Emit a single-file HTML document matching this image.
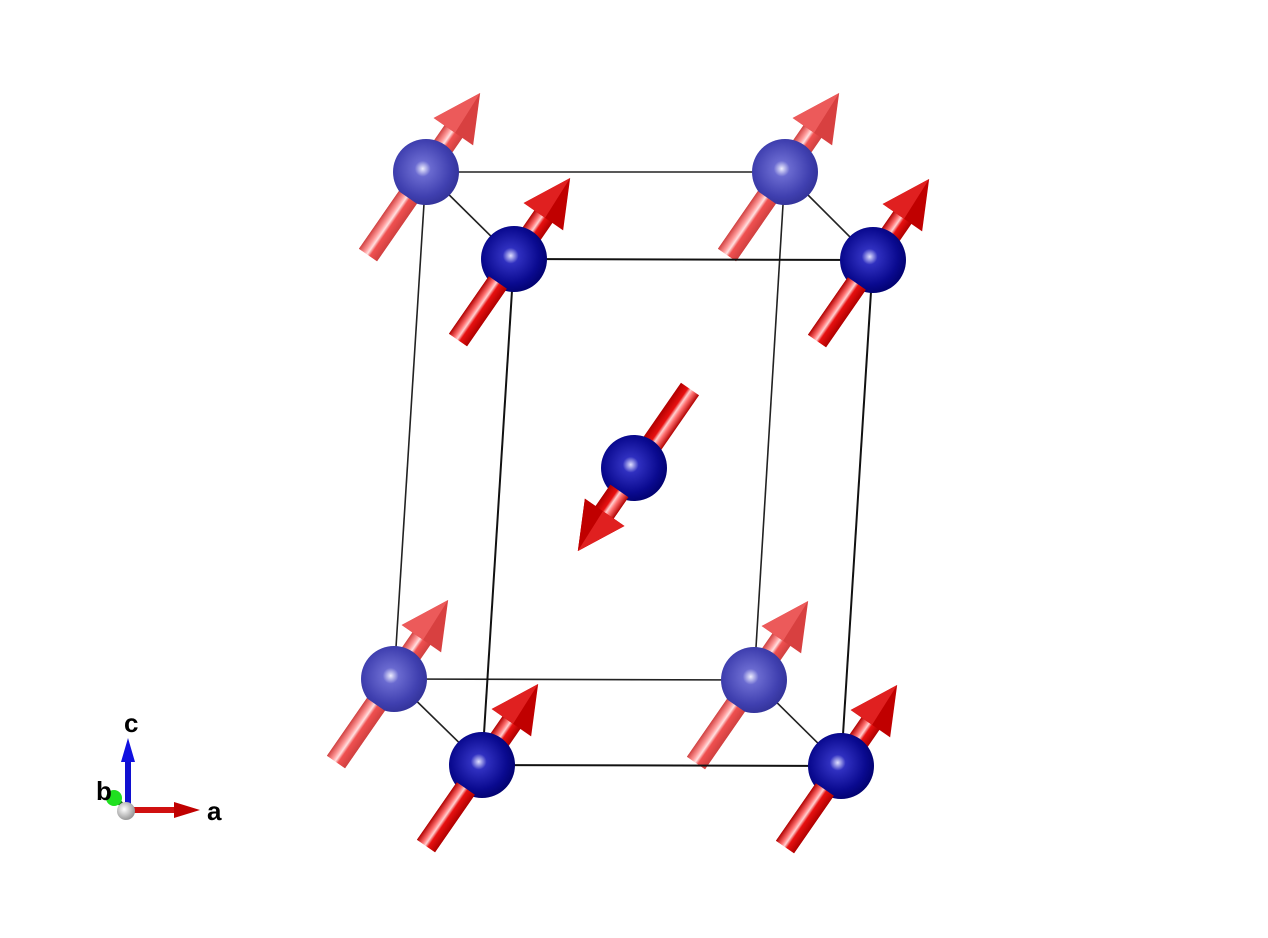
<!DOCTYPE html>
<html><head><meta charset="utf-8"><style>
html,body{margin:0;padding:0;background:#fff;}
svg{display:block}
</style></head><body>
<svg width="1268" height="938" viewBox="0 0 1268 938" xmlns="http://www.w3.org/2000/svg">
<defs>
<linearGradient id="sh" gradientUnits="userSpaceOnUse" x1="0" y1="-11" x2="0" y2="11">
<stop offset="0" stop-color="#b00000"/><stop offset="0.3" stop-color="#ff7070"/><stop offset="0.45" stop-color="#ffd0d0"/><stop offset="0.6" stop-color="#e81010"/><stop offset="1" stop-color="#b00000"/>
</linearGradient>
<linearGradient id="shb" gradientUnits="userSpaceOnUse" x1="0" y1="-11" x2="0" y2="11">
<stop offset="0" stop-color="#d04040"/><stop offset="0.3" stop-color="#ff9a9a"/><stop offset="0.45" stop-color="#ffe0e0"/><stop offset="0.6" stop-color="#f05050"/><stop offset="1" stop-color="#d04040"/>
</linearGradient>
<radialGradient id="fa" cx="0.45" cy="0.45" r="0.6">
<stop offset="0" stop-color="#e0e0ff"/><stop offset="0.2" stop-color="#3030c0"/><stop offset="0.7" stop-color="#0a0a90"/><stop offset="1" stop-color="#00006a"/>
</radialGradient>
<radialGradient id="ba" cx="0.45" cy="0.45" r="0.6">
<stop offset="0" stop-color="#eeeeff"/><stop offset="0.2" stop-color="#6a6ad0"/><stop offset="0.7" stop-color="#4040b0"/><stop offset="1" stop-color="#303095"/>
</radialGradient>
<radialGradient id="wg" cx="0.4" cy="0.4" r="0.6"><stop offset="0" stop-color="#fff"/><stop offset="1" stop-color="#999"/></radialGradient>
<g id="headF"><polygon points="150,-24 197,0 150,24" fill="#c00000"/><polygon points="150,-24 197,0 150,2" fill="#e02020"/></g>
<g id="headB"><polygon points="150,-24 197,0 150,24" fill="#d84040"/><polygon points="150,-24 197,0 150,2" fill="#ec5a5a"/></g>
<g id="arF"><rect x="0" y="-11" width="152" height="22" fill="url(#sh)"/><use href="#headF"/></g>
<g id="arB"><rect x="0" y="-11" width="152" height="22" fill="url(#shb)"/><use href="#headB"/></g>
<g id="lowF"><rect x="0" y="-11" width="70" height="22" fill="url(#sh)"/></g>
<g id="lowB"><rect x="0" y="-11" width="70" height="22" fill="url(#shb)"/></g>
<g id="cenF"><rect x="124" y="-11" width="28" height="22" fill="url(#sh)"/><use href="#headF"/></g>
</defs>
<g stroke="#222" stroke-width="1.6" fill="none">
<line x1="426" y1="172" x2="785" y2="172"/><line x1="394" y1="679" x2="754" y2="680"/>
<line x1="426" y1="172" x2="394" y2="679"/><line x1="785" y1="172" x2="754" y2="680"/>
<line x1="426" y1="172" x2="514" y2="259"/><line x1="785" y1="172" x2="873" y2="260"/>
<line x1="394" y1="679" x2="482" y2="765"/><line x1="754" y1="680" x2="841" y2="766"/>
</g>
<!-- back atoms -->
<g>
<use href="#arB" transform="translate(368,255) rotate(-55.3)"/><circle cx="426" cy="172" r="33" fill="url(#ba)"/><use href="#lowB" transform="translate(368,255) rotate(-55.3)"/>
<use href="#arB" transform="translate(727,255) rotate(-55.3)"/><circle cx="785" cy="172" r="33" fill="url(#ba)"/><use href="#lowB" transform="translate(727,255) rotate(-55.3)"/>
<use href="#arB" transform="translate(336,762) rotate(-55.3)"/><circle cx="394" cy="679" r="33" fill="url(#ba)"/><use href="#lowB" transform="translate(336,762) rotate(-55.3)"/>
<use href="#arB" transform="translate(696,763) rotate(-55.3)"/><circle cx="754" cy="680" r="33" fill="url(#ba)"/><use href="#lowB" transform="translate(696,763) rotate(-55.3)"/>
</g>
<g stroke="#111" stroke-width="2" fill="none">
<line x1="514" y1="259" x2="873" y2="260"/><line x1="482" y1="765" x2="841" y2="766"/>
<line x1="514" y1="259" x2="482" y2="765"/><line x1="873" y1="260" x2="841" y2="766"/>
</g>
<!-- center -->
<use href="#arF" transform="translate(690,389) rotate(124.7)"/><circle cx="634" cy="468" r="33" fill="url(#fa)"/>
<use href="#cenF" transform="translate(690,389) rotate(124.7)"/>
<!-- front atoms -->
<use href="#arF" transform="translate(458,340) rotate(-55.3)"/><circle cx="514" cy="259" r="33" fill="url(#fa)"/><use href="#lowF" transform="translate(458,340) rotate(-55.3)"/>
<use href="#arF" transform="translate(817,341) rotate(-55.3)"/><circle cx="873" cy="260" r="33" fill="url(#fa)"/><use href="#lowF" transform="translate(817,341) rotate(-55.3)"/>
<use href="#arF" transform="translate(426,846) rotate(-55.3)"/><circle cx="482" cy="765" r="33" fill="url(#fa)"/><use href="#lowF" transform="translate(426,846) rotate(-55.3)"/>
<use href="#arF" transform="translate(785,847) rotate(-55.3)"/><circle cx="841" cy="766" r="33" fill="url(#fa)"/><use href="#lowF" transform="translate(785,847) rotate(-55.3)"/>
<!-- axes -->
<rect x="125" y="758" width="6" height="52" fill="#1010d0"/>
<polygon points="121,762 128,738 135,762" fill="#1010e0"/>
<line x1="127" y1="810" x2="115" y2="798" stroke="#107010" stroke-width="5"/>
<circle cx="114" cy="798" r="8" fill="#20e020"/>
<rect x="128" y="807" width="50" height="6" fill="#d01010"/>
<polygon points="174,802 200,810 174,818" fill="#c00000"/>
<circle cx="126" cy="811" r="9" fill="url(#wg)"/>
<g font-family="Liberation Sans, sans-serif" font-weight="bold" font-size="26" fill="#000">
<text x="124" y="732">c</text><text x="96" y="800">b</text><text x="207" y="820">a</text>
</g>
</svg>
</body></html>
